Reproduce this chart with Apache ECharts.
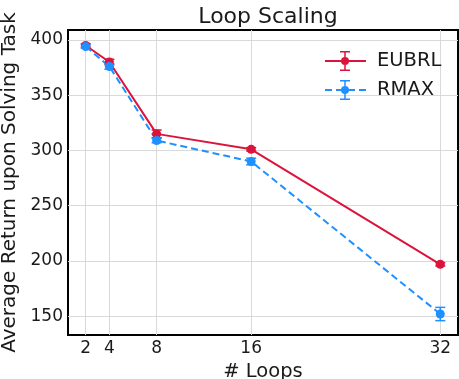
<!DOCTYPE html>
<html>
<head>
<meta charset="utf-8">
<script src="https://cdn.jsdelivr.net/npm/echarts@6/dist/echarts.min.js"></script>
<style>
  html, body { margin: 0; padding: 0; background: #fff; }
  #chart { width: 459px; height: 379px; }
</style>
</head>
<body>
<div id="chart"></div>
<script>
const FONT = "DejaVu Sans, sans-serif";
const TEXT_COLOR = "#1a1a1a";
const GRID_COLOR = "#d9d9d9";

// Data
const loops = [2, 4, 8, 16, 32];
const xTicks = [2, 4, 8, 16, 32];
const yTicks = [150, 200, 250, 300, 350, 400];

const eubrlMean = [395, 380, 315, 301, 197];
const eubrlErr = [1.5, 2.5, 3.5, 1.5, 1.5];
const rmaxMean = [394, 376, 309, 290, 152];
const rmaxErr = [1.5, 2.5, 2, 3, 6];

const EUBRL_COLOR = "#dc143c";
const RMAX_COLOR = "#1e90ff";

// legend icons: line + marker + error bar
const ERR_ICON_BAR = "M19.25 1h1.5v18h-1.5z M15 0h10v1.5H15z M15 18.5h10v1.5H15z M16 10a4 4 0 1 1 8 0a4 4 0 1 1 -8 0z";
const EUBRL_ICON = "path://M0 9h41v2H0z " + ERR_ICON_BAR;
const RMAX_ICON = "path://M0 9h7v2H0z M11 9h7v2h-7z M23 9h7v2h-7z M34 9h7v2h-7z " + ERR_ICON_BAR;

const chart = echarts.init(document.getElementById("chart"), null, { renderer: "canvas" });

function errorSeries(name, color, means, errs) {
  return {
    name: name,
    type: "custom",
    z: 3,
    data: loops.map((x, i) => [x, means[i] - errs[i], means[i] + errs[i]]),
    renderItem: (params, api) => {
      const top = api.coord([api.value(0), api.value(2)]);
      const bot = api.coord([api.value(0), api.value(1)]);
      const cap = 5;
      const style = { stroke: color, lineWidth: 1.5 };
      return {
        type: "group",
        children: [
          { type: "line", shape: { x1: top[0], y1: top[1], x2: bot[0], y2: bot[1] }, style },
          { type: "line", shape: { x1: top[0] - cap, y1: top[1], x2: top[0] + cap, y2: top[1] }, style },
          { type: "line", shape: { x1: bot[0] - cap, y1: bot[1], x2: bot[0] + cap, y2: bot[1] }, style },
        ],
      };
    },
    silent: true,
  };
}

function lineSeries(name, color, means, dashed) {
  return {
    name: name,
    type: "line",
    z: 4,
    data: loops.map((x, i) => [x, means[i]]),
    symbol: "circle",
    symbolSize: 9,
    showSymbol: true,
    lineStyle: { color: color, width: 2, type: dashed ? [7, 4] : "solid" },
    itemStyle: { color: color },
    animation: false,
  };
}

chart.setOption({
  animation: false,
  title: {
    text: "Loop Scaling",
    left: 263,
    top: 1,
    textAlign: "center",
    textStyle: { fontFamily: FONT, fontSize: 22, fontWeight: "normal", color: TEXT_COLOR },
  },
  legend: {
    orient: "vertical",
    left: 320,
    top: 46,
    itemWidth: 41,
    itemHeight: 20,
    itemGap: 9,
    textStyle: { fontFamily: FONT, fontSize: 19.5, color: TEXT_COLOR, padding: [0, 0, 0, 6] },
    data: [
      { name: "EUBRL", icon: EUBRL_ICON, itemStyle: { color: EUBRL_COLOR } },
      { name: "RMAX", icon: RMAX_ICON, itemStyle: { color: RMAX_COLOR } },
    ],
  },
  grid: {
    left: 68, right: 1, top: 30, bottom: 44,
    outerBoundsMode: "none",
    containLabel: false,
    show: true, borderColor: "#000", borderWidth: 2,
  },
  xAxis: {
    type: "value",
    min: 0.5,
    max: 33.5,
    name: "# Loops",
    nameLocation: "middle",
    nameGap: 24,
    nameTextStyle: { fontFamily: FONT, fontSize: 19.5, color: TEXT_COLOR },
    axisLine: { show: false },
    axisTick: { show: false, customValues: xTicks },
    axisLabel: { customValues: xTicks, fontFamily: FONT, fontSize: 17, color: TEXT_COLOR, margin: 5 },
    splitLine: { show: true, lineStyle: { color: GRID_COLOR, width: 1 } },
  },
  yAxis: {
    type: "value",
    min: 133,
    max: 409,
    name: "Average Return upon Solving Task",
    nameLocation: "middle",
    nameGap: 41,
    nameTextStyle: { fontFamily: FONT, fontSize: 20, color: TEXT_COLOR },
    axisLine: { show: false },
    axisTick: { show: false, customValues: yTicks },
    axisLabel: { customValues: yTicks, fontFamily: FONT, fontSize: 17, color: TEXT_COLOR, margin: 5 },
    splitLine: { show: true, lineStyle: { color: GRID_COLOR, width: 1 } },
  },
  series: [
    lineSeries("EUBRL", EUBRL_COLOR, eubrlMean, false),
    errorSeries("EUBRL", EUBRL_COLOR, eubrlMean, eubrlErr),
    lineSeries("RMAX", RMAX_COLOR, rmaxMean, true),
    errorSeries("RMAX", RMAX_COLOR, rmaxMean, rmaxErr),
  ],
});
</script>
</body>
</html>
